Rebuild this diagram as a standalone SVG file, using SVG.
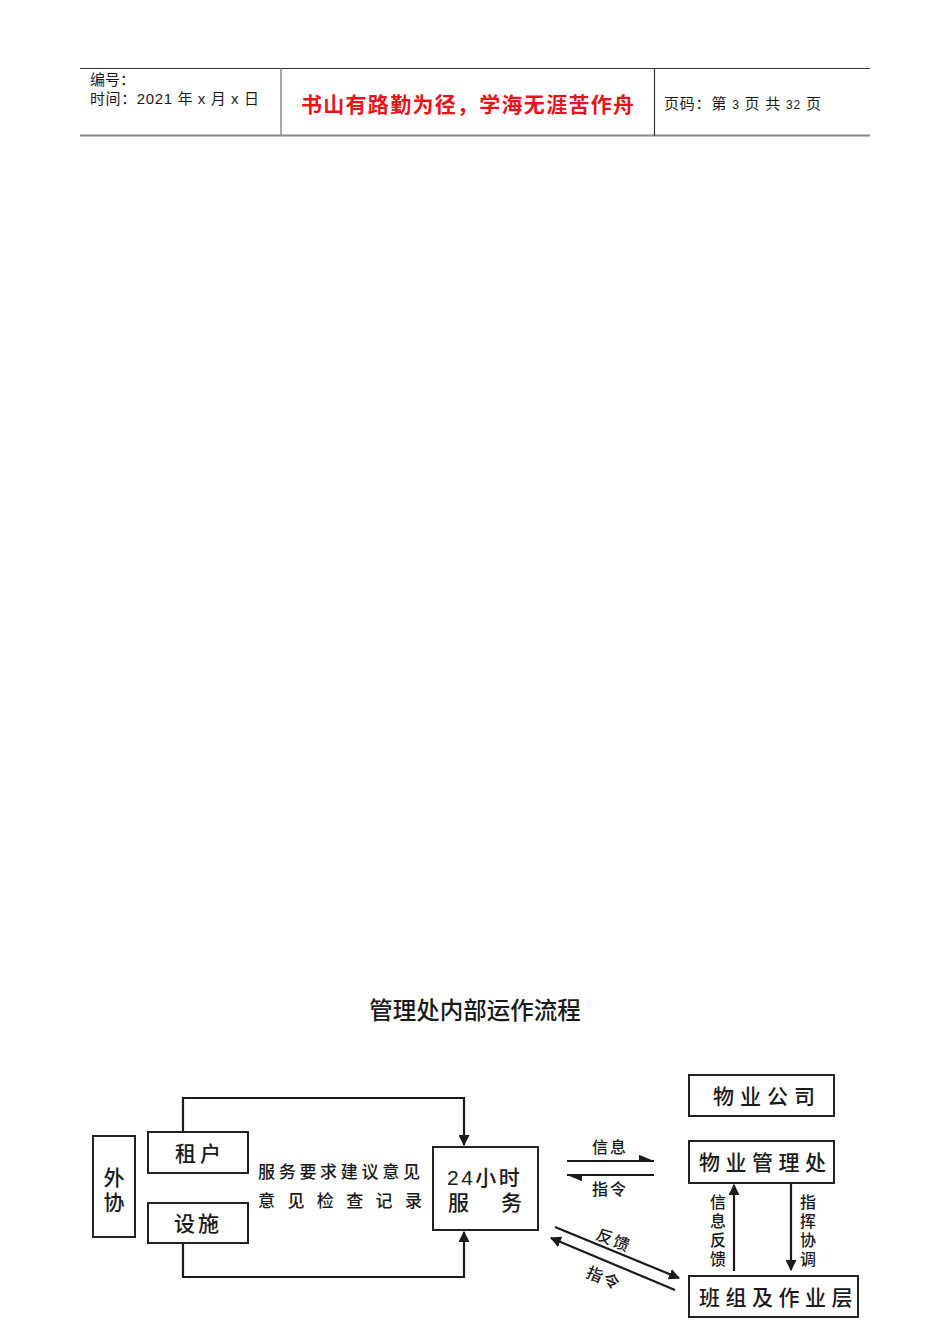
<svg xmlns="http://www.w3.org/2000/svg" width="950" height="1344" viewBox="0 0 950 1344">
<style>
  text { font-family: "Liberation Sans", "Noto Sans CJK SC", sans-serif; fill: #1a1a1a; }
  .box { fill: #ffffff; stroke: #222222; stroke-width: 2; }
  .ln { fill: none; stroke: #1a1a1a; stroke-width: 2.2; }
  .hd { font-size: 15px; }
  .big { font-size: 21px; font-weight: 500; }
  .mid { font-size: 17px; font-weight: 500; }
  .sm { font-size: 16px; font-weight: 500; }
</style>
<defs>
  <marker id="tri" viewBox="0 0 10 10" refX="9" refY="5" markerWidth="5" markerHeight="5" orient="auto" markerUnits="strokeWidth">
    <path d="M0,0 L10,5 L0,10 z" fill="#1a1a1a"/>
  </marker>
  <marker id="harpU" viewBox="0 0 12 6" refX="12" refY="5" markerWidth="7" markerHeight="3.5" orient="auto" markerUnits="strokeWidth">
    <path d="M0,0 L12,5 L0,5 z" fill="#1a1a1a"/>
  </marker>
</defs>
<rect width="950" height="1344" fill="#ffffff"/>

<g id="header">
  <line x1="80" y1="68.5" x2="870" y2="68.5" stroke="#333" stroke-width="1.2"/>
  <line x1="80" y1="135.5" x2="870" y2="135.5" stroke="#888" stroke-width="2"/>
  <line x1="281" y1="68" x2="281" y2="136" stroke="#888" stroke-width="1.5"/>
  <line x1="654.5" y1="68" x2="654.5" y2="136" stroke="#333" stroke-width="1.2"/>
  <text class="hd" x="90" y="85">编号：</text>
  <text class="hd" x="90" y="104" textLength="169" lengthAdjust="spacing">时间：2021 年 x 月 x 日</text>
  <text x="301" y="112" font-size="21" font-weight="bold" style="fill:#e8141c" textLength="333" lengthAdjust="spacing">书山有路勤为径，学海无涯苦作舟</text>
  <text class="hd" x="664" y="109" textLength="157" lengthAdjust="spacing">页码：第 <tspan font-size="12">3</tspan> 页  共 <tspan font-size="12">32</tspan> 页</text>
</g>

<g id="title">
  <text x="475" y="1019" font-size="23.5" font-weight="500" text-anchor="middle">管理处内部运作流程</text>
</g>

<g id="connectors">
  <polyline class="ln" points="183,1132 183,1098 464,1098 464,1145" marker-end="url(#tri)"/>
  <polyline class="ln" points="183,1243 183,1277 464,1277 464,1232" marker-end="url(#tri)"/>
  <line class="ln" x1="567" y1="1161" x2="654" y2="1161" marker-end="url(#harpU)"/>
  <line class="ln" x1="654" y1="1175" x2="567" y2="1175" marker-end="url(#harpU)"/>
  <line class="ln" x1="555" y1="1227" x2="679" y2="1278" marker-end="url(#tri)"/>
  <line class="ln" x1="675" y1="1290" x2="551" y2="1238" marker-end="url(#tri)"/>
  <line class="ln" x1="734" y1="1271" x2="734" y2="1185" marker-end="url(#tri)"/>
  <line class="ln" x1="791" y1="1184" x2="791" y2="1270" marker-end="url(#tri)"/>
</g>

<g id="labels">
  <text class="mid" x="258 278.7 299.4 320.1 340.8 361.5 382.2 402.9" y="1178">服务要求建议意见</text>
  <text class="mid" x="258 287.4 316.8 346.2 375.6 405" y="1207">意见检查记录</text>
  <text class="sm" x="610" y="1153" text-anchor="middle" letter-spacing="2">信息</text>
  <text class="sm" x="610" y="1195" text-anchor="middle" letter-spacing="2">指令</text>
  <text class="sm" x="614" y="1246" text-anchor="middle" letter-spacing="2" transform="rotate(22.5 614 1240)">反馈</text>
  <text class="sm" x="604" y="1284" text-anchor="middle" letter-spacing="2" transform="rotate(22.5 604 1278)">指令</text>
  <text class="sm" x="718" text-anchor="middle"><tspan x="718" y="1208">信</tspan><tspan x="718" y="1227">息</tspan><tspan x="718" y="1246">反</tspan><tspan x="718" y="1265">馈</tspan></text>
  <text class="sm" x="808" text-anchor="middle"><tspan x="808" y="1208">指</tspan><tspan x="808" y="1227">挥</tspan><tspan x="808" y="1246">协</tspan><tspan x="808" y="1265">调</tspan></text>
</g>

<g id="node-waixie">
  <rect class="box" x="93" y="1136" width="42" height="101"/>
  <text class="big" x="114" y="1185" text-anchor="middle">外</text>
  <text class="big" x="114" y="1210" text-anchor="middle">协</text>
</g>

<g id="node-zuhu">
  <rect class="box" x="148" y="1132" width="100" height="41"/>
  <text class="big" x="175 200" y="1161">租户</text>
</g>

<g id="node-sheshi">
  <rect class="box" x="148" y="1203" width="100" height="40"/>
  <text class="big" x="174 198" y="1231">设施</text>
</g>

<g id="node-24h">
  <rect class="box" x="433" y="1147" width="105" height="83"/>
  <text class="big" x="447" y="1185" letter-spacing="2.5">24小时</text>
  <text class="big" x="448" y="1210">服</text>
  <text class="big" x="501" y="1210">务</text>
</g>

<g id="node-company">
  <rect class="box" x="689" y="1075" width="145" height="41"/>
  <text class="big" x="713 740 767 794" y="1104">物业公司</text>
</g>

<g id="node-office">
  <rect class="box" x="689" y="1141" width="145" height="42"/>
  <text class="big" x="699 725.5 752 778.5 805" y="1170">物业管理处</text>
</g>

<g id="node-team">
  <rect class="box" x="689" y="1276" width="169" height="41"/>
  <text class="big" x="699 725.5 752 778.5 805 831.5" y="1305">班组及作业层</text>
</g>
</svg>
